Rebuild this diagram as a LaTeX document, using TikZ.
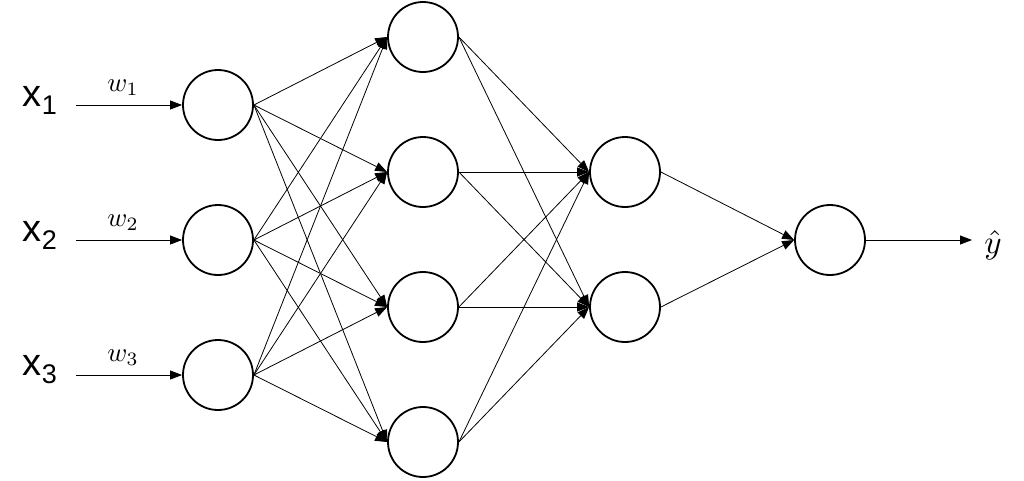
\documentclass[tikz,border=0pt]{standalone}
\usepackage{fontspec}
\newfontfamily\labfont{Liberation Sans}
\usetikzlibrary{arrows.meta}
\begin{document}
\begin{tikzpicture}[x=1pt,y=-1pt,
  neuron/.style={circle,draw,line width=1.8pt,minimum size=70pt,inner sep=0pt},
  conn/.style={-{Triangle[length=12pt,width=9pt]},line width=0.8pt},
  inlab/.style={font=\labfont\fontsize{38}{40}\selectfont,inner sep=0pt},
  wlab/.style={inner sep=0pt},
  outlab/.style={inner sep=0pt}]
\useasboundingbox (0,0) rectangle (1024,480);
% layer 1
\node[neuron] (a1) at (218,105) {};
\node[neuron] (a2) at (218,240) {};
\node[neuron] (a3) at (218,375) {};
% layer 2
\node[neuron] (b1) at (423,37) {};
\node[neuron] (b2) at (423,172) {};
\node[neuron] (b3) at (423,307) {};
\node[neuron] (b4) at (423,442) {};
% layer 3
\node[neuron] (c1) at (625,172) {};
\node[neuron] (c2) at (625,307) {};
% output
\node[neuron] (d1) at (830,240) {};
% inputs
\coordinate (s1) at (76,105);
\coordinate (s2) at (76,240);
\coordinate (s3) at (76,375);
\foreach \i in {1,2,3} {
  \draw[conn] (s\i) -- (a\i.west);
  \node[inlab] (x\i) at (40,\i*135-135+100) {x\raisebox{-8pt}{\fontsize{27}{29}\selectfont\i}};
  \node[wlab] (w\i) at (123,\i*135-135+88) {\scalebox{2.7}{$w_{\i}$}};
}
\foreach \i in {1,2,3}
  \foreach \j in {1,2,3,4}
    \draw[conn] (a\i.east) -- (b\j.west);
\foreach \i in {1,2,3,4}
  \foreach \j in {1,2}
    \draw[conn] (b\i.east) -- (c\j.west);
\foreach \i in {1,2}
  \draw[conn] (c\i.east) -- (d1.west);
\coordinate (e1) at (972,240);
\draw[conn] (d1.east) -- (e1);
\node[outlab] (yhat) at (993,245) {\scalebox{3.3}{$\hat{y}$}};
\end{tikzpicture}
\end{document}
